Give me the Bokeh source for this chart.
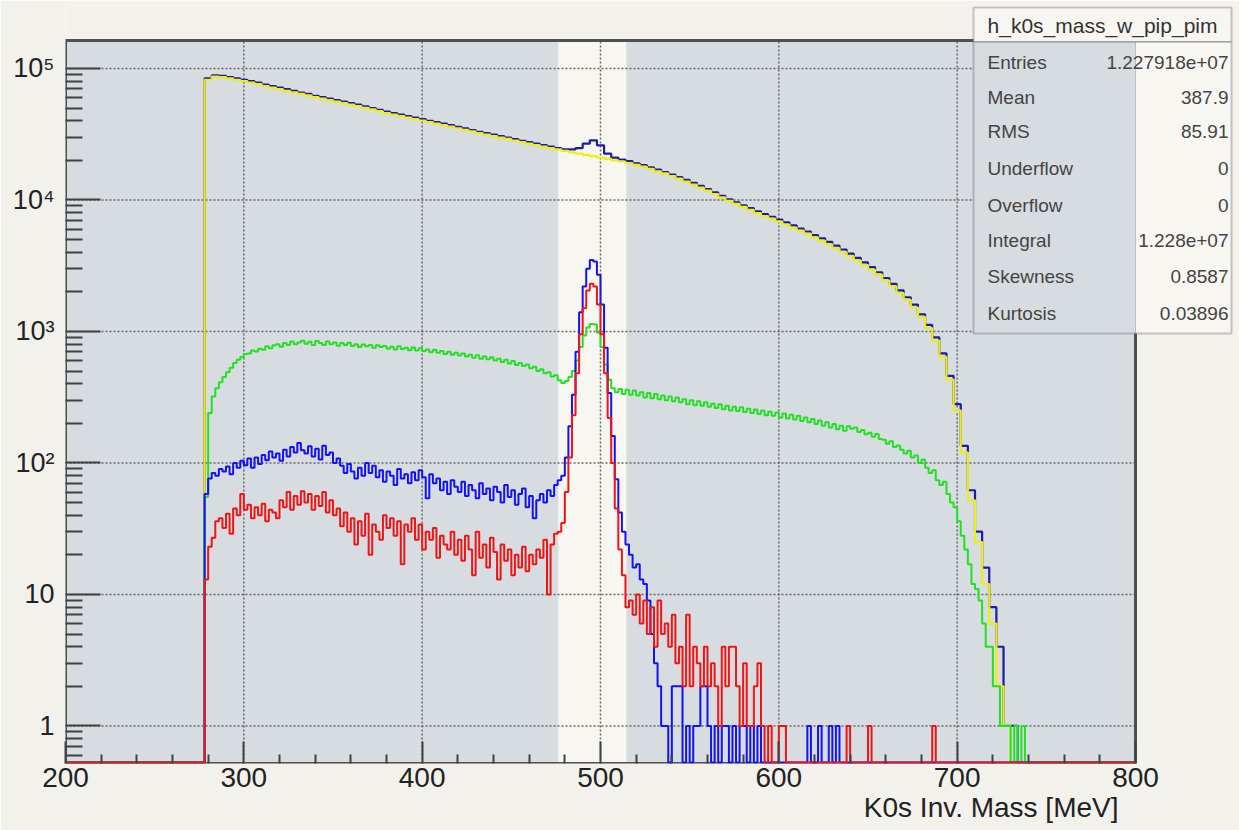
import numpy as np
from bokeh.plotting import figure
from bokeh.models import Range1d, FixedTicker, BoxAnnotation, Label, Title
from bokeh.embed import file_html
from bokeh.resources import INLINE

# ---------------- data ----------------
X_MIN, X_MAX = 200.0, 800.0          # histogram axis range [MeV]
Y_MIN, Y_MAX = 0.518, 1.631e5        # histogram y range (log)
Y_ZERO = 0.527                       # where empty bins are drawn (bottom of the frame)
START = 278.0                        # first filled bin edge [MeV]
W2 = 2.0                             # bin width of the noisy histograms
W4 = 4.0                             # bin width of the smooth histograms
BAND = (476.3, 514.5)                # highlighted (un-shaded) mass window

# total (dark blue), 4 MeV bins from 278
navy_total = [
    84000, 88500, 88000, 86000, 84000, 82000, 80000, 78000, 75500, 73500,
    71500, 69500, 67500, 65500, 64000, 62000, 60500, 59000, 57500, 56000,
    54500, 53000, 51500, 50000, 48500, 47000, 45800, 44600, 43400, 42200,
    41200, 40000, 39000, 38000, 37000, 36000, 35000, 34000, 33000, 32200,
    31400, 30600, 29800, 29000, 28200, 27500, 26800, 26100, 25400, 24800,
    24300, 24200, 24800, 26800, 28400, 26000, 22500, 21000, 20300, 19700,
    19000, 18400, 17700, 17000, 16300, 15600, 14900, 14200, 13500, 12800,
    12100, 11400, 10750, 10100, 9600, 9100, 8650, 8200, 7800, 7450,
    7100, 6750, 6400, 6050, 5750, 5400, 5100, 4800, 4500, 4200,
    3900, 3620, 3350, 3080, 2820, 2550, 2300, 2050, 1820, 1600,
    1350, 1120, 900, 680, 460, 280, 135, 62, 30, 16,
    8, 4, 1, 1, 0, 0,
]
# background (yellow), 4 MeV bins from 278
yellow_bkg = [
    82000, 86500, 86000, 84000, 82000, 80000, 78000, 76000, 73500, 71500,
    69500, 67500, 65800, 64000, 62300, 60500, 59000, 57500, 56000, 54500,
    53000, 51600, 50200, 48800, 47300, 45800, 44600, 43500, 42300, 41200,
    40200, 39000, 38000, 37000, 36100, 35100, 34100, 33200, 32200, 31400,
    30600, 29800, 29100, 28300, 27500, 26800, 26100, 25400, 24800, 24200,
    23600, 23000, 22500, 22000, 21500, 21000, 20500, 20000, 19600, 19100,
    18500, 17900, 17200, 16500, 15900, 15200, 14500, 13800, 13100, 12400,
    11800, 11100, 10450, 9850, 9350, 8850, 8400, 7950, 7550, 7200,
    6850, 6500, 6150, 5850, 5550, 5200, 4900, 4600, 4300, 4020,
    3740, 3470, 3200, 2950, 2700, 2440, 2200, 1960, 1740, 1520,
    1290, 1060, 850, 640, 430, 250, 120, 52, 25, 12,
    6, 2, 1, 0, 0, 0,
]
# green, 2 MeV bins from 278
green = [
    55, 240, 320, 370, 410, 450, 490, 530, 575, 610,
    640, 675, 680, 715, 705, 740, 725, 770, 745, 785,
    800, 765, 815, 790, 840, 800, 825, 850, 805, 835,
    790, 845, 815, 790, 840, 800, 825, 780, 815, 790,
    820, 775, 800, 760, 795, 770, 790, 750, 785, 760,
    775, 740, 765, 730, 770, 735, 750, 720, 755, 715,
    745, 710, 730, 695, 725, 690, 710, 675, 700, 665,
    690, 655, 680, 645, 665, 630, 660, 620, 645, 615,
    635, 600, 620, 585, 610, 570, 595, 555, 575, 545,
    560, 525, 540, 500, 515, 480, 490, 455, 465, 425,
    405, 420, 450, 500, 600, 760, 930, 1070, 1140, 1130,
    980, 760, 560, 430, 370, 345, 365, 335, 360, 330,
    355, 325, 345, 315, 340, 310, 335, 305, 325, 300,
    320, 295, 315, 290, 305, 280, 300, 275, 295, 272,
    290, 268, 282, 262, 280, 256, 272, 250, 268, 248,
    265, 244, 258, 240, 255, 236, 250, 230, 245, 228,
    242, 222, 238, 218, 232, 214, 228, 208, 222, 204,
    216, 198, 210, 192, 204, 186, 198, 180, 192, 176,
    190, 182, 186, 172, 178, 165, 170, 158, 166, 152,
    150, 140, 146, 132, 136, 126, 118, 124, 110, 114,
    100, 106, 92, 84, 88, 74, 68, 72, 58, 50,
    46, 36, 28, 22, 17, 12, 11, 9, 6, 4,
    4, 2, 2, 1, 1, 1, 0, 1, 0, 1,
    0,
]
# blue, 2 MeV bins from 278
blue = [
    58, 76, 84, 80, 90, 86, 94, 82, 100, 92,
    104, 96, 108, 92, 110, 98, 115, 105, 122, 110,
    118, 104, 126, 112, 132, 120, 142, 125, 118, 134,
    112, 128, 106, 135, 115, 120, 100, 108, 95, 84,
    98, 86, 76, 92, 80, 100, 84, 95, 78, 88,
    72, 86, 80, 68, 90, 76, 82, 70, 85, 74,
    88, 78, 54, 82, 70, 76, 62, 72, 58, 74,
    66, 60, 72, 56, 68, 62, 54, 70, 58, 64,
    52, 66, 60, 50, 68, 55, 62, 48, 58, 64,
    46, 56, 38, 52, 58, 50, 62, 56, 68, 74,
    80, 110, 190, 330, 700, 1400, 2200, 3000, 3500, 3400,
    2700, 1600, 750, 340, 160, 75, 42, 30, 24, 20,
    16, 17, 13, 12, 9, 5, 3, 2, 1, 1,
    0, 2, 2, 2, 0, 1, 0, 1, 1, 2,
    2, 1, 0, 1, 0, 1, 1, 0, 1, 0,
    1, 1, 0, 1, 0, 1, 0, 0, 0, 0,
    0, 0, 0, 0, 0, 0, 0, 0, 0, 1,
    0, 0, 1, 0, 0, 1, 0, 1, 0, 0,
]
# red, 2 MeV bins from 278
red = [
    13, 23, 27, 36, 38, 32, 41, 29, 45, 40,
    58, 44, 48, 38, 46, 40, 49, 36, 44, 42,
    38, 52, 46, 60, 44, 56, 48, 61, 50, 58,
    44, 56, 47, 60, 42, 52, 40, 45, 33, 42,
    30, 38, 24, 36, 28, 41, 20, 34, 30, 26,
    40, 32, 38, 28, 36, 17, 34, 30, 38, 26,
    34, 22, 30, 26, 32, 19, 28, 24, 22, 30,
    20, 26, 18, 28, 22, 14, 30, 19, 24, 16,
    27, 21, 13, 24, 18, 22, 14, 20, 16, 23,
    15, 20, 17, 22, 19, 26, 10, 24, 29, 30,
    35, 60, 110, 230, 480, 950, 1500, 2050, 2300, 2200,
    1600, 950, 480, 220, 100, 45, 22, 14, 8, 9,
    7, 10, 6, 9, 5, 8, 4, 9, 5, 6,
    4, 7, 3, 4, 2, 7, 2, 4, 3, 2,
    4, 2, 3, 2, 1, 4, 2, 4, 4, 2,
    1, 3, 1, 1, 2, 3, 1, 0, 1, 0,
    0, 1, 1, 0, 0, 0, 0, 0, 0, 0,
    0, 0, 0, 0, 0, 0, 0, 0, 0, 0,
    1, 0, 0, 0, 0, 0, 1, 0, 0, 0,
    0, 0, 0, 0, 0, 0, 0, 0, 0, 0,
    0, 0, 0, 0, 1, 0, 0, 0, 0, 0,
]

stats_title = "h_k0s_mass_w_pip_pim"
stats_names = ["Entries", "Mean", "RMS", "Underflow", "Overflow", "Integral", "Skewness", "Kurtosis"]
stats_values = ["1.227918e+07", "387.9", "85.91", "0", "0", "1.228e+07", "0.8587", "0.03896"]

x_major = [200, 300, 400, 500, 600, 700, 800]
x_minor = [m for m in range(220, 800, 20) if m % 100]
y_major = [1, 10, 100, 1000, 10000, 100000]
y_major_text = ["1", "10", "10\u00b2", "10\u00b3", "10\u2074", "10\u2075"]
x_label = "K0s Inv. Mass [MeV]"

# ---------------- layout (pixels) ----------------
W, H = 1239, 830
F_LEFT, F_RIGHT, F_TOP, F_BOTTOM = 65, 1237, 5, 763     # drawing frame (covers stats box too)
PLOT_RIGHT_PX = 1135                                      # where x = 800 sits
px_per_mev = (PLOT_RIGHT_PX - F_LEFT) / (X_MAX - X_MIN)
X_END = X_MIN + (F_RIGHT - F_LEFT) / px_per_mev
px_per_dec = (F_BOTTOM - 40) / (np.log10(Y_MAX) - np.log10(Y_MIN))
Y_END = 10 ** (np.log10(Y_MIN) + (F_BOTTOM - F_TOP) / px_per_dec)

FONT = "Liberation Sans"
PAGE = "#f3f1ec"
WHITE = "#f8f6f1"
SHADE = "#d7dce1"
EDGE = "#505050"

p = figure(width=W, height=H, output_backend="svg", toolbar_location=None,
           x_range=Range1d(X_MIN, X_END), y_range=Range1d(Y_MIN, Y_END),
           y_axis_type="log",
           min_border_left=F_LEFT, min_border_right=W - F_RIGHT,
           min_border_top=F_TOP, min_border_bottom=H - F_BOTTOM)
p.background_fill_color = PAGE
p.border_fill_color = PAGE
p.outline_line_color = None
p.xgrid.visible = False
p.ygrid.visible = False

# plot area: white, then shaded regions
p.quad(left=[X_MIN], right=[X_MAX], bottom=[Y_MIN], top=[Y_MAX],
       fill_color=WHITE, line_color=None, level="image")
p.quad(left=[X_MIN, BAND[1]], right=[BAND[0], X_MAX], bottom=[Y_MIN, Y_MIN], top=[Y_MAX, Y_MAX],
       fill_color=SHADE, line_color=None, level="image")

# dotted grid at the major ticks
gx = [v for v in x_major if X_MIN < v < X_MAX]
p.segment(x0=gx, x1=gx, y0=[Y_MIN] * len(gx), y1=[Y_MAX] * len(gx),
          line_color="#5a5a5a", line_dash="2 2", line_width=1.5, line_alpha=0.9)
p.segment(x0=[X_MIN] * len(y_major), x1=[X_MAX] * len(y_major), y0=y_major, y1=y_major,
          line_color="#5a5a5a", line_dash="2 2", line_width=1.5, line_alpha=0.9)

# frame of the histogram
p.quad(left=[X_MIN], right=[X_MAX], bottom=[Y_MIN], top=[Y_MAX],
       fill_alpha=0, line_color=EDGE, line_width=3)

# axes
xa = p.xaxis[0]
xa.ticker = FixedTicker(ticks=x_major, minor_ticks=x_minor)
ya = p.yaxis[0]
y_minor = [m * 10.0 ** e for e in range(-1, 5) for m in range(2, 10) if 0.5 < m * 10.0 ** e < Y_MAX]
ya.ticker = FixedTicker(ticks=y_major, minor_ticks=y_minor)
ya.major_label_overrides = {v: t for v, t in zip(y_major, y_major_text)}
for ax in (xa, ya):
    ax.axis_line_color = None
    ax.major_tick_line_color = "#404040"
    ax.minor_tick_line_color = "#404040"
    ax.major_tick_line_width = 2
    ax.minor_tick_line_width = 2
    ax.major_tick_out = 0
    ax.minor_tick_out = 0
    ax.major_label_text_font = FONT
    ax.major_label_text_color = "#222222"
xa.major_tick_in = 22
xa.minor_tick_in = 9
xa.major_label_standoff = 4
xa.major_label_text_font_size = "28px"
ya.major_tick_in = 35
ya.minor_tick_in = 17
ya.major_label_standoff = 11
ya.major_label_text_font_size = "27px"

# histograms (drawn in ROOT order)
series = [
    (navy_total, W4, "#1c1ca8", 2.2),
    (yellow_bkg, W4, "#eeee10", 2.2),
    (green, W2, "#22e022", 2.0),
    (blue, W2, "#1212f5", 2.0),
    (red, W2, "#f01414", 2.0),
]
for vals, w, col, lw in series:
    v = np.asarray(vals, dtype=float)
    edges = START + w * np.arange(len(v) + 1)
    xs = np.concatenate([[X_MIN], edges, [X_MAX]])
    ys = np.concatenate([[0.0], v, [0.0, 0.0]])
    ys = np.where(ys <= 0, Y_ZERO, ys)
    p.step(xs, ys, mode="after", line_color=col, line_width=lw)

# x axis title, right aligned (ROOT style)
p.add_layout(Title(text=x_label, align="right", offset=F_RIGHT - 1118, standoff=0,
                   text_font=FONT, text_font_size="28px", text_font_style="normal",
                   text_color="#222222"), "below")

# statistics box (screen units, relative to the frame's bottom-left corner)
def sx(px):
    return px - F_LEFT

def sy(py):
    return F_BOTTOM - py

BL, BR, BT, BB, HB = sx(973), sx(1231), sy(7), sy(333), sy(41.5)
PR, PT = sx(PLOT_RIGHT_PX), sy(40)

def box(l, r, b, t, **kw):
    p.add_layout(BoxAnnotation(left=l, right=r, bottom=b, top=t, left_units="screen", right_units="screen",
                               bottom_units="screen", top_units="screen", **kw))

box(BL, BR, HB, BT, fill_color=WHITE, fill_alpha=1, line_color=EDGE, line_width=2)
box(PR, BR, BB, HB, fill_color=WHITE, fill_alpha=1, line_color=None)
box(BL, PR, BB, HB, fill_color=SHADE, fill_alpha=1, line_color=None)
box(BL, BR, BB, HB, fill_alpha=0, line_color=EDGE, line_width=2)

p.add_layout(Label(x=(BL + BR) / 2, y=sy(25), x_units="screen", y_units="screen", text=stats_title,
                   text_align="center", text_baseline="middle", text_font=FONT,
                   text_font_size="21px", text_color="#333333"))
row_px = [61.5, 97, 131, 168, 204.5, 240, 276, 313]
for name, val, ry in zip(stats_names, stats_values, row_px):
    p.add_layout(Label(x=sx(987), y=sy(ry), x_units="screen", y_units="screen", text=name,
                       text_align="left", text_baseline="middle", text_font=FONT,
                       text_font_size="19px", text_color="#444444"))
    p.add_layout(Label(x=sx(1228), y=sy(ry), x_units="screen", y_units="screen", text=val,
                       text_align="right", text_baseline="middle", text_font=FONT,
                       text_font_size="19px", text_color="#444444"))

open("out.html", "w").write(file_html(p, INLINE))
